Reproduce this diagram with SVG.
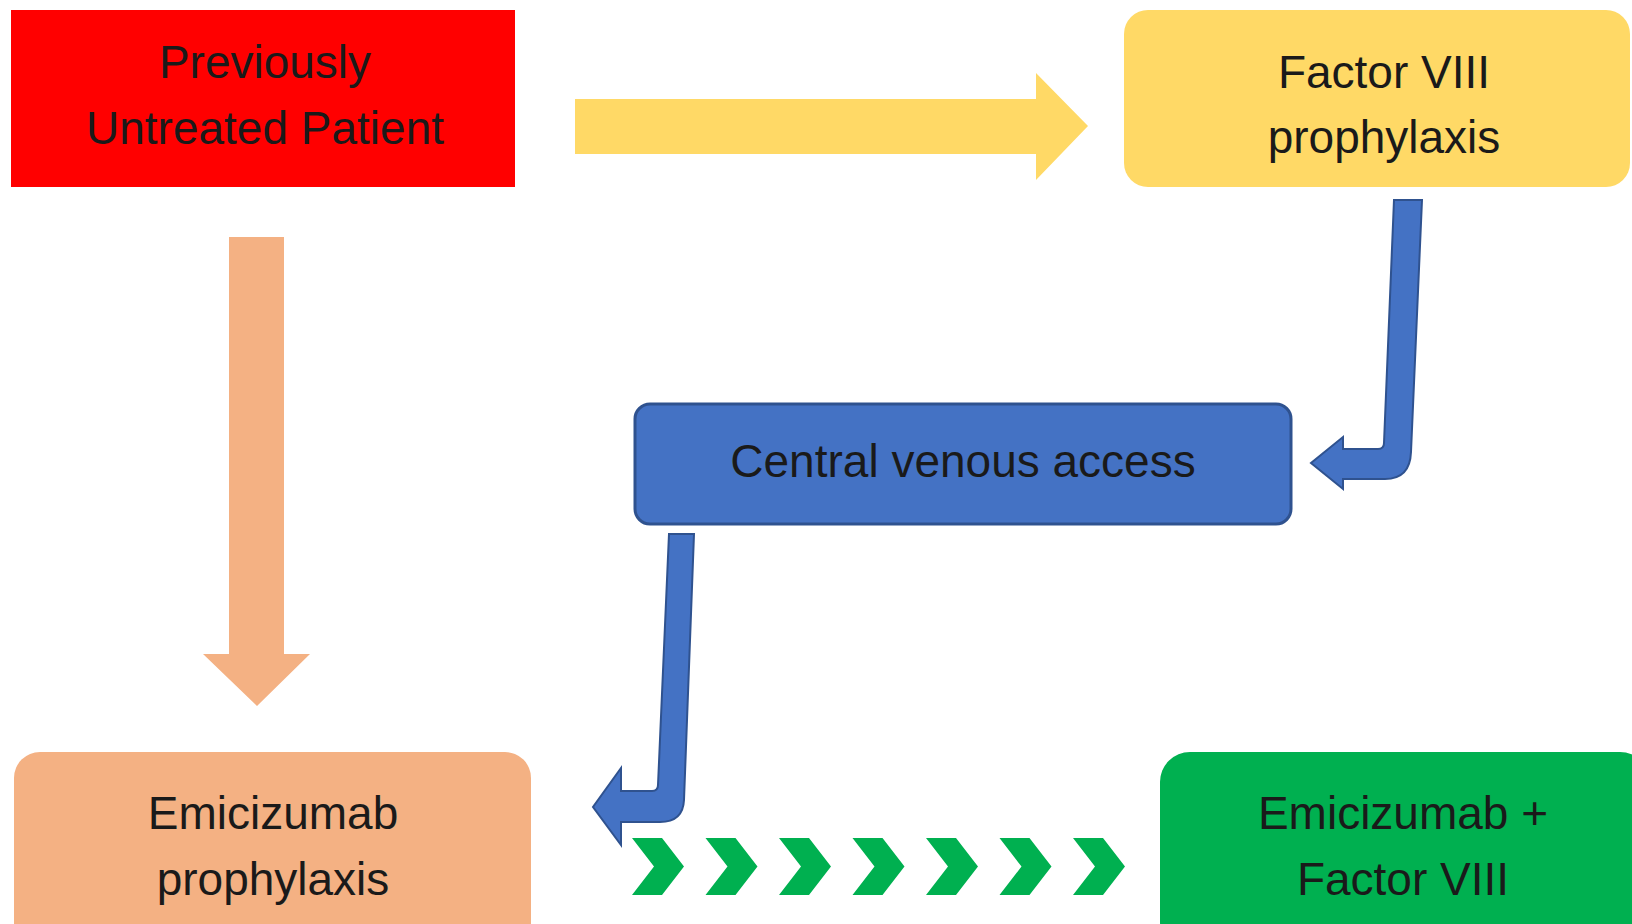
<svg xmlns="http://www.w3.org/2000/svg" width="1632" height="924" viewBox="0 0 1632 924">
<style>
  .lbl { font-family: "Liberation Sans", Arial, sans-serif; font-size: 46px; fill: #1a1a1a; text-anchor: middle; }
  .blue { fill: #4472C4; stroke: #2F528F; stroke-width: 2; }
</style>
<defs>
  <path id="chev" d="M0,0 L30,0 L52,28.5 L30,57 L0,57 L22,28.5 Z" fill="#00B050"/>
</defs>
<rect width="1632" height="924" fill="#ffffff"/>

<g id="connectors">
  <path id="arrow-yellow" d="M575,99 L1036,99 L1036,73 L1088,126 L1036,180 L1036,154 L575,154 Z" fill="#FFD966"/>
  <path id="arrow-salmon" d="M229,237 L284,237 L284,654 L310,654 L257,706 L203,654 L229,654 Z" fill="#F4B183"/>
  <path id="arrow-blue-1" class="blue" d="M1394,200 L1422,200 L1411,452 Q1410,479 1385,479 L1343,479 L1343,489 L1311,463 L1343,437 L1343,449 L1378,449 Q1384,449 1384,443 Z"/>
  <path id="arrow-blue-2" class="blue" d="M669,534 L694,534 L684,800 Q683,822 660,822 L621,822 L621,845 L593,807 L621,768 L621,791 L652,791 Q658,791 658,785 Z"/>
  <g id="chevrons">
    <use href="#chev" x="632" y="838"/>
    <use href="#chev" x="705.5" y="838"/>
    <use href="#chev" x="779" y="838"/>
    <use href="#chev" x="852.5" y="838"/>
    <use href="#chev" x="926" y="838"/>
    <use href="#chev" x="999.5" y="838"/>
    <use href="#chev" x="1073" y="838"/>
  </g>
</g>

<g id="node-put">
  <rect x="11" y="10" width="504" height="177" fill="#FF0000"/>
  <text class="lbl" x="265" y="78">Previously</text>
  <text class="lbl" x="265" y="144">Untreated Patient</text>
</g>

<g id="node-fviii">
  <rect x="1124" y="10" width="506" height="177" rx="24" fill="#FFD966"/>
  <text class="lbl" x="1384" y="88">Factor VIII</text>
  <text class="lbl" x="1384" y="153">prophylaxis</text>
</g>

<g id="node-cva">
  <rect x="635" y="404" width="656" height="120" rx="15" fill="#4472C4" stroke="#2F528F" stroke-width="3"/>
  <text class="lbl" x="963" y="477">Central venous access</text>
</g>

<g id="node-emi">
  <rect x="14" y="752" width="517" height="200" rx="26" fill="#F4B183"/>
  <text class="lbl" x="273" y="829">Emicizumab</text>
  <text class="lbl" x="273" y="895">prophylaxis</text>
</g>

<g id="node-emi-fviii">
  <rect x="1160" y="752" width="490" height="200" rx="30" fill="#00B050"/>
  <text class="lbl" x="1403" y="829" fill="#000">Emicizumab +</text>
  <text class="lbl" x="1403" y="895">Factor VIII</text>
</g>
</svg>
